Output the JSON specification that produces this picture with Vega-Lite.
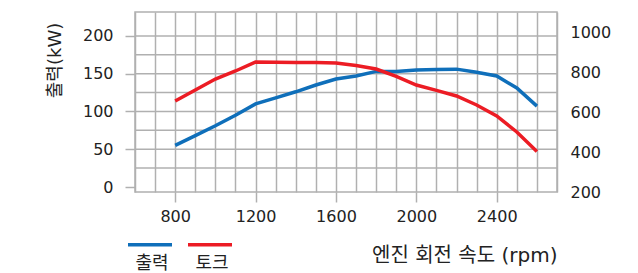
{
  "$schema": "https://vega.github.io/schema/vega-lite/v6.json",
  "width": 422,
  "height": 180,
  "autosize": {"type": "none"},
  "padding": {"left": 135, "top": 12, "right": 81, "bottom": 81},
  "background": "white",
  "config": {
    "view": {"stroke": "#b0b0b0", "strokeWidth": 1.5},
    "font": "DejaVu Sans, Noto Sans CJK KR"
  },
  "datasets": {
    "curves": [
      {"rpm": 800, "series": "출력", "value": 55},
      {"rpm": 900, "series": "출력", "value": 68},
      {"rpm": 1000, "series": "출력", "value": 81},
      {"rpm": 1100, "series": "출력", "value": 95},
      {"rpm": 1200, "series": "출력", "value": 110},
      {"rpm": 1300, "series": "출력", "value": 118},
      {"rpm": 1400, "series": "출력", "value": 126},
      {"rpm": 1500, "series": "출력", "value": 135},
      {"rpm": 1600, "series": "출력", "value": 143},
      {"rpm": 1700, "series": "출력", "value": 147},
      {"rpm": 1800, "series": "출력", "value": 153},
      {"rpm": 1900, "series": "출력", "value": 153},
      {"rpm": 2000, "series": "출력", "value": 155},
      {"rpm": 2100, "series": "출력", "value": 155.5},
      {"rpm": 2200, "series": "출력", "value": 156},
      {"rpm": 2300, "series": "출력", "value": 152},
      {"rpm": 2400, "series": "출력", "value": 147},
      {"rpm": 2500, "series": "출력", "value": 131},
      {"rpm": 2600, "series": "출력", "value": 107},
      {"rpm": 800, "series": "토크", "value": 655},
      {"rpm": 900, "series": "토크", "value": 710},
      {"rpm": 1000, "series": "토크", "value": 765},
      {"rpm": 1100, "series": "토크", "value": 805},
      {"rpm": 1200, "series": "토크", "value": 850},
      {"rpm": 1300, "series": "토크", "value": 849},
      {"rpm": 1400, "series": "토크", "value": 848},
      {"rpm": 1500, "series": "토크", "value": 847},
      {"rpm": 1600, "series": "토크", "value": 845},
      {"rpm": 1700, "series": "토크", "value": 832},
      {"rpm": 1800, "series": "토크", "value": 815},
      {"rpm": 1900, "series": "토크", "value": 778},
      {"rpm": 2000, "series": "토크", "value": 735},
      {"rpm": 2100, "series": "토크", "value": 708},
      {"rpm": 2200, "series": "토크", "value": 680},
      {"rpm": 2300, "series": "토크", "value": 635},
      {"rpm": 2400, "series": "토크", "value": 580},
      {"rpm": 2500, "series": "토크", "value": 500},
      {"rpm": 2600, "series": "토크", "value": 402}
    ],
    "kwgrid": [
      {"value": 25}, {"value": 50}, {"value": 75}, {"value": 100}, {"value": 125},
      {"value": 150}, {"value": 175}, {"value": 200}
    ]
  },
  "layer": [
    {
      "encoding": {
        "y": {
          "field": "value",
          "type": "quantitative",
          "scale": {"domain": [0, 225], "nice": false},
          "axis": {
            "values": [0, 50, 100, 150, 200],
            "grid": false,
            "domain": false,
            "tickSize": 10,
            "tickWidth": 1.5,
            "tickColor": "#b0b0b0",
            "labelOverlap": false,
            "labelFlush": false,
            "labelFontSize": 16,
            "labelColor": "#222222",
            "labelPadding": 12,
            "title": "출력(kW)",
            "titleFontSize": 18,
            "titleFontWeight": "normal",
            "titleColor": "#222222",
            "titleAngle": -90,
            "titleX": -80,
            "titleY": 48,
            "titleAlign": "center",
            "titleBaseline": "middle"
          }
        }
      },
      "layer": [
        {
          "data": {"name": "kwgrid"},
          "mark": {"type": "bar", "orient": "horizontal", "size": 1.5, "color": "#b0b0b0"},
          "encoding": {
            "x": {
              "datum": 600,
              "type": "quantitative",
              "scale": {"domain": [600, 2700], "nice": false, "zero": false},
              "axis": {
                "values": [600, 700, 800, 900, 1000, 1100, 1200, 1300, 1400, 1500, 1600, 1700, 1800, 1900, 2000, 2100, 2200, 2300, 2400, 2500, 2600, 2700],
                "format": "d",
                "grid": true,
                "gridColor": "#b0b0b0",
                "gridWidth": 1.5,
                "gridOpacity": 1,
                "domain": false,
                "tickSize": 10,
                "tickColor": "#b0b0b0",
                "tickWidth": 1.5,
                "tickOpacity": {"condition": {"test": "datum.value % 400 == 0 && datum.value >= 800 && datum.value <= 2400", "value": 1}, "value": 0},
                "labelExpr": "datum.value % 400 == 0 && datum.value >= 800 && datum.value <= 2400 ? datum.label : ''",
                "labelOverlap": false,
                "labelFlush": false,
                "labelFontSize": 16,
                "labelColor": "#222222",
                "labelPadding": 6,
                "title": "엔진 회전 속도 (rpm)",
                "titleFontSize": 20,
                "titleFontWeight": "normal",
                "titleColor": "#222222",
                "titleAnchor": "end",
                "titleAlign": "right",
                "titleX": 422,
                "titleY": 63,
                "titleBaseline": "middle"
              }
            },
            "x2": {"datum": 2700}
          }
        },
        {
          "data": {"name": "curves"},
          "transform": [{"filter": "datum.series == '출력'"}],
          "mark": {"type": "line", "strokeWidth": 3.5},
          "encoding": {
            "x": {
              "field": "rpm",
              "type": "quantitative",
              "scale": {"domain": [600, 2700], "nice": false, "zero": false},
              "axis": {
                "values": [600, 700, 800, 900, 1000, 1100, 1200, 1300, 1400, 1500, 1600, 1700, 1800, 1900, 2000, 2100, 2200, 2300, 2400, 2500, 2600, 2700],
                "format": "d",
                "grid": true,
                "gridColor": "#b0b0b0",
                "gridWidth": 1.5,
                "gridOpacity": 1,
                "domain": false,
                "tickSize": 10,
                "tickColor": "#b0b0b0",
                "tickWidth": 1.5,
                "tickOpacity": {"condition": {"test": "datum.value % 400 == 0 && datum.value >= 800 && datum.value <= 2400", "value": 1}, "value": 0},
                "labelExpr": "datum.value % 400 == 0 && datum.value >= 800 && datum.value <= 2400 ? datum.label : ''",
                "labelOverlap": false,
                "labelFlush": false,
                "labelFontSize": 16,
                "labelColor": "#222222",
                "labelPadding": 6,
                "title": "엔진 회전 속도 (rpm)",
                "titleFontSize": 20,
                "titleFontWeight": "normal",
                "titleColor": "#222222",
                "titleAnchor": "end",
                "titleAlign": "right",
                "titleX": 422,
                "titleY": 63,
                "titleBaseline": "middle"
              }
            },
            "color": {
              "field": "series",
              "type": "nominal",
              "scale": {"domain": ["출력", "토크"], "range": ["#0f6fba", "#ec1c24"]},
              "legend": {
                "orient": "none",
                "legendX": -9,
                "legendY": 227.5,
                "direction": "horizontal",
                "title": null,
                "symbolType": "M-1,-0.85L1,-0.85",
                "symbolSize": 1936,
                "symbolStrokeWidth": 3.5,
                "symbolFillColor": "transparent",
                "labelOffset": -22,
                "labelAlign": "center",
                "labelFontSize": 18,
                "labelColor": "#222222",
                "columnPadding": 2,
                "padding": 0
              }
            }
          }
        }
      ]
    },
    {
      "data": {"name": "curves"},
      "transform": [{"filter": "datum.series == '토크'"}],
      "mark": {"type": "line", "strokeWidth": 3.5},
      "encoding": {
        "x": {
          "field": "rpm",
          "type": "quantitative",
          "scale": {"domain": [600, 2700], "nice": false, "zero": false},
          "axis": {
            "values": [600, 700, 800, 900, 1000, 1100, 1200, 1300, 1400, 1500, 1600, 1700, 1800, 1900, 2000, 2100, 2200, 2300, 2400, 2500, 2600, 2700],
            "format": "d",
            "grid": true,
            "gridColor": "#b0b0b0",
            "gridWidth": 1.5,
            "gridOpacity": 1,
            "domain": false,
            "tickSize": 10,
            "tickColor": "#b0b0b0",
            "tickWidth": 1.5,
            "tickOpacity": {"condition": {"test": "datum.value % 400 == 0 && datum.value >= 800 && datum.value <= 2400", "value": 1}, "value": 0},
            "labelExpr": "datum.value % 400 == 0 && datum.value >= 800 && datum.value <= 2400 ? datum.label : ''",
            "labelOverlap": false,
            "labelFlush": false,
            "labelFontSize": 16,
            "labelColor": "#222222",
            "labelPadding": 6,
            "title": "엔진 회전 속도 (rpm)",
            "titleFontSize": 20,
            "titleFontWeight": "normal",
            "titleColor": "#222222",
            "titleAnchor": "end",
            "titleAlign": "right",
            "titleX": 422,
            "titleY": 63,
            "titleBaseline": "middle"
          }
        },
        "y": {
          "field": "value",
          "type": "quantitative",
          "scale": {"domain": [200, 1100], "nice": false, "zero": false},
          "axis": {
            "orient": "right",
            "values": [200, 400, 600, 800, 1000],
            "format": "d",
            "grid": false,
            "domain": false,
            "ticks": false,
            "labelFlush": false,
            "labelOverlap": false,
            "labelFontSize": 16,
            "labelColor": "#222222",
            "labelPadding": 13,
            "title": null
          }
        },
        "color": {
          "field": "series",
          "type": "nominal",
          "scale": {"domain": ["출력", "토크"], "range": ["#0f6fba", "#ec1c24"]}
        }
      }
    }
  ],
  "resolve": {"scale": {"y": "independent"}}
}
